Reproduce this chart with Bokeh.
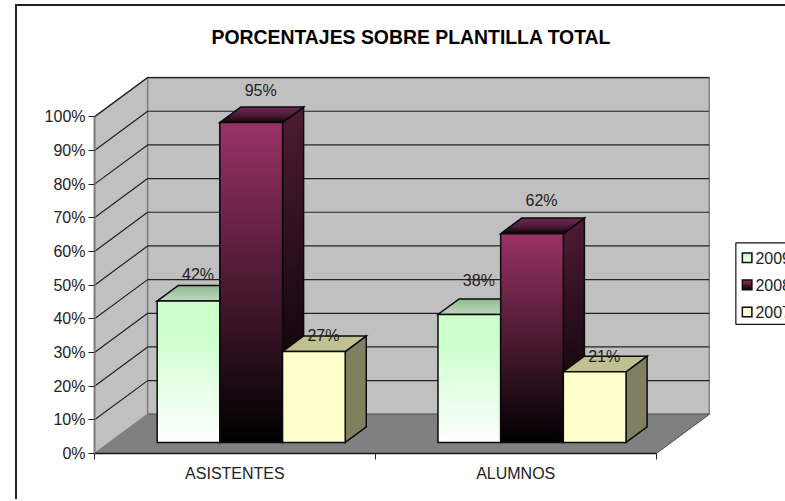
from bokeh.plotting import figure
from bokeh.embed import file_html
from bokeh.resources import INLINE
from bokeh.models import Range1d, FixedTicker
from bokeh.core.properties import value

# ---- data -------------------------------------------------------------
categories = ["ASISTENTES", "ALUMNOS"]
series_names = ["2009", "2008", "2007"]
values_2009 = [42, 38]
values_2008 = [95, 62]
values_2007 = [27, 21]
y_ticks = [0, 10, 20, 30, 40, 50, 60, 70, 80, 90, 100]
title_text = "PORCENTAJES SOBRE PLANTILLA TOTAL"

# ---- layout (page pixels) ---------------------------------------------
OX, OY = 17, 8                  # where the canvas starts on the page
NUDGE = 1
W, H = 785 - OX, 501 - OY
X0, Y0 = 95.0, 453.0            # axis origin on the page
FRAME_TOP = 62.0
PX_CAT = 280.0                  # pixels per category
PX_PCT = 3.35                   # pixels per percentage point
FONT = "Liberation Sans"

x_end = (W + OX - X0 + NUDGE) / PX_CAT
y_end = (Y0 - FRAME_TOP) / PX_PCT


def dx(px):
    return px / PX_CAT


def dy(px):
    return px / PX_PCT


p = figure(width=W, height=H, output_backend="svg", toolbar_location=None,
           x_range=Range1d(0, x_end), y_range=Range1d(0, y_end),
           min_border_left=int(X0 - OX) - NUDGE, min_border_right=0,
           min_border_bottom=int(H + OY - Y0), min_border_top=int(FRAME_TOP - OY))
p.margin = (OY - 4, 0, 0, OX - 2)
p.styles = {"border-left": "2px solid #222222", "border-top": "2px solid #222222",
            "box-sizing": "content-box"}
p.outline_line_color = None
p.background_fill_color = "white"
p.xgrid.visible = False
p.ygrid.visible = False

# ---- title --------------------------------------------------------------
p.title.text = title_text
p.title.align = "left"
p.title.offset = 117
p.title.standoff = 26
p.title.text_font = FONT
p.title.text_font_size = "19.4px"
p.title.text_font_style = "bold"
p.title.text_color = "#000000"

# ---- axes ---------------------------------------------------------------
ya = p.yaxis[0]
ya.ticker = FixedTicker(ticks=y_ticks)
ya.bounds = (0, 100)
ya.major_label_overrides = {t: f"{t}%" for t in y_ticks}
ya.axis_line_color = "#808080"
ya.axis_line_width = 2
ya.major_tick_line_color = "#222222"
ya.major_tick_in = 0
ya.major_tick_out = 6
ya.minor_tick_line_color = None
ya.major_label_standoff = 3
ya.major_label_text_font = FONT
ya.major_label_text_font_size = "16px"
ya.major_label_text_color = "#222222"

xa = p.xaxis[0]
xa.ticker = FixedTicker(ticks=[0.5, 1.5], minor_ticks=[0, 1, 2])
xa.bounds = (0, 2)
xa.major_label_overrides = {0.5: categories[0], 1.5: categories[1]}
xa.axis_line_color = "#111111"
xa.axis_line_width = 1.5
xa.major_tick_line_color = None
xa.major_tick_in = 0
xa.major_tick_out = 0
xa.minor_tick_line_color = "#222222"
xa.minor_tick_in = 0
xa.minor_tick_out = 6
xa.major_label_standoff = 5
xa.major_label_text_font = FONT
xa.major_label_text_font_size = "16px"
xa.major_label_text_color = "#222222"

# ---- walls --------------------------------------------------------------
WD_X, WD_Y = dx(53), dy(39)
p.patch([0, 2, 2 + WD_X, WD_X], [0, 0, WD_Y, WD_Y],
        fill_color="#808080", line_color="#808080", line_width=1)
p.patch([0, 0, WD_X, WD_X], [0, 100, 100 + WD_Y, WD_Y],
        fill_color="#c0c0c0", line_color="#808080", line_width=1.5)
p.patch([WD_X, WD_X, 2 + WD_X, 2 + WD_X], [WD_Y, 100 + WD_Y, 100 + WD_Y, WD_Y],
        fill_color="#c0c0c0", line_color="#808080", line_width=1.5)
p.line([WD_X, 2 + WD_X], [WD_Y, WD_Y], line_color="#666666", line_width=1.5)
for t in y_ticks[1:]:
    p.line([0, WD_X, 2 + WD_X], [t, t + WD_Y, t + WD_Y], line_color="#222222", line_width=1.2)
p.line([2, 2 + WD_X], [0, WD_Y], line_color="#555555", line_width=1)


# ---- gradient helper: painted far-to-near so that no seams show ---------
def mix(c0, c1, f):
    a = [int(c0[i:i + 2], 16) for i in (1, 3, 5)]
    b = [int(c1[i:i + 2], 16) for i in (1, 3, 5)]
    return "#%02x%02x%02x" % tuple(round(a[i] + (b[i] - a[i]) * f) for i in range(3))


def colour_at(stops, f):
    for (f0, c0), (f1, c1) in zip(stops, stops[1:]):
        if f <= f1:
            return mix(c0, c1, (f - f0) / (f1 - f0) if f1 > f0 else 0)
    return stops[-1][1]


def shade(bl, br, tr, tl, stops, n):
    """Face with corners bottom-left, bottom-right, top-right, top-left;
    `stops` runs from bottom (0) to top (1)."""
    xs, ys, cols = [], [], []
    for i in range(n):
        f = i / n
        xs.append([bl[0] + (tl[0] - bl[0]) * f, br[0] + (tr[0] - br[0]) * f, tr[0], tl[0]])
        ys.append([bl[1] + (tl[1] - bl[1]) * f, br[1] + (tr[1] - br[1]) * f, tr[1], tl[1]])
        cols.append(colour_at(stops, (i + 0.5) / n))
    p.patches(xs, ys, fill_color=cols, line_color=None)
    p.patch([bl[0], br[0], tr[0], tl[0]], [bl[1], br[1], tr[1], tl[1]],
            fill_color=None, line_color=OUTLINE, line_width=1.5, line_join="miter")


OUTLINE = "#0a0a0a"
STYLES = {
    "2009": dict(front=[(0, "#ffffff"), (0.78, "#ccffcc"), (1, "#ccffcc")],
                 side=[(0, "#808080"), (1, "#669966")],
                 top=[(0, "#c0d8c0"), (1, "#8fb88f")]),
    "2008": dict(front=[(0, "#000000"), (1, "#993366")],
                 side=[(0, "#000000"), (1, "#4d1a33")],
                 top=[(0, "#0a0206"), (0.45, "#4d1a38"), (1, "#6e2a52")]),
    "2007": dict(front=[(0, "#ffffcc"), (1, "#ffffcc")],
                 side=[(0, "#808060"), (1, "#808060")],
                 top=[(0, "#c0c090"), (1, "#c0c090")]),
}

BAR_W = dx(62.5)
BAR_START = dx(62.5)
Z_Y = dy(11)                    # front face of a bar above the floor's front edge
B_X, B_Y = dx(21), dy(15.5)     # depth of a bar

series_values = [values_2009, values_2008, values_2007]
# label lift above the far edge of the bar's top, in pixels
label_lift = {"2009": [11, 18], "2008": [16, 18], "2007": [0, 0]}

labels_x, labels_y, labels_t, labels_off = [], [], [], []
for c in range(len(categories)):
    for s, name in enumerate(series_names):
        v = series_values[s][c]
        st = STYLES[name]
        x0 = c + BAR_START + s * BAR_W
        x1 = x0 + BAR_W
        y0 = Z_Y
        y1 = Z_Y + v
        shade((x1, y0), (x1 + B_X, y0 + B_Y), (x1 + B_X, y1 + B_Y), (x1, y1), st["side"],
              48 if name != "2007" else 1)
        shade((x0, y1), (x1, y1), (x1 + B_X, y1 + B_Y), (x0 + B_X, y1 + B_Y), st["top"],
              12 if name != "2007" else 1)
        shade((x0, y0), (x1, y0), (x1, y1), (x0, y1), st["front"],
              max(1, int(v * 1.2)) if name != "2007" else 1)
        labels_x.append(x0 + BAR_W / 2 + B_X / 2)
        labels_y.append(y1 + B_Y)
        labels_t.append(f"{v}%")
        labels_off.append(-label_lift[name][c])

p.text(labels_x, labels_y, text=labels_t, y_offset=labels_off, x_offset=-1,
       text_align="center", text_baseline="middle",
       text_font=value(FONT), text_font_size="16px", text_color="#222222")


# ---- legend -------------------------------------------------------------
def px_x(px):
    return (px - X0) / PX_CAT


def px_y(px):
    return (Y0 - px) / PX_PCT


p.patch([px_x(734.5), px_x(800), px_x(800), px_x(734.5)],
        [px_y(324.5), px_y(324.5), px_y(243.5), px_y(243.5)],
        fill_color="white", line_color="#111111", line_width=1.2)
key_tops = [253.5, 280.5, 307.5]
for name, top in zip(series_names, key_tops):
    bl = (px_x(741), px_y(top + 9.5))
    br = (px_x(750.5), px_y(top + 9.5))
    tr = (px_x(750.5), px_y(top))
    tl = (px_x(741), px_y(top))
    shade(bl, br, tr, tl, STYLES[name]["front"], 8 if name != "2007" else 1)
    p.text([px_x(754)], [px_y(top + 4.8)], text=[name], text_align="left", text_baseline="middle",
           text_font=value(FONT), text_font_size="16px", text_color="#222222")

open("out.html", "w").write(file_html(p, INLINE))
